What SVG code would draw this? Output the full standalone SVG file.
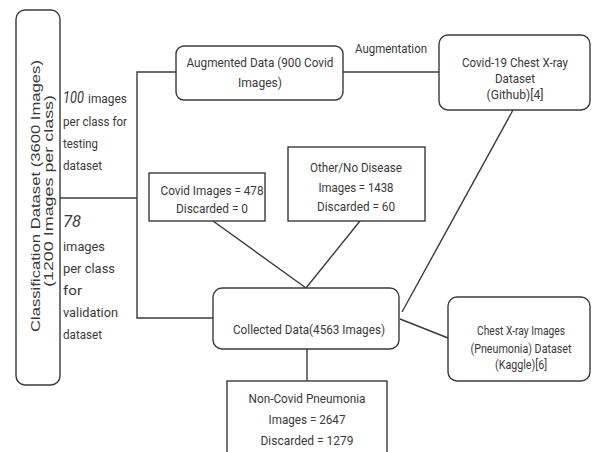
<svg xmlns="http://www.w3.org/2000/svg" width="592" height="452" viewBox="0 0 592 452">
<style>
.box{fill:#fff;stroke:#3a3a3a;stroke-width:1.4}
.ln{fill:none;stroke:#3a3a3a;stroke-width:1.4}
text{font-family:Roboto,"Liberation Sans",sans-serif;font-size:13.5px;fill:#3a3a3a}
.c{text-anchor:middle}
.r{font-family:"Liberation Sans",Arial,sans-serif;text-anchor:middle}
.i{font-style:italic;font-size:16px}
</style>
<rect width="592" height="452" fill="#fff"/>
<g id="connectors">
<polyline class="ln" points="60,198 137,198"/>
<polyline class="ln" points="176,72 137,72 137,318 213,318"/>
<line class="ln" x1="343" y1="72" x2="439" y2="72"/>
<line class="ln" x1="513" y1="110" x2="402" y2="312"/>
<line class="ln" x1="400" y1="319" x2="448" y2="338"/>
<line class="ln" x1="307" y1="349" x2="307" y2="381"/>
<line class="ln" x1="213" y1="221" x2="306" y2="288"/>
<line class="ln" x1="360" y1="221" x2="306" y2="288"/>
<text x="355" y="53" textLength="72" lengthAdjust="spacingAndGlyphs">Augmentation</text>
<text x="63" y="103" class="i" textLength="21" lengthAdjust="spacingAndGlyphs">100</text>
<text x="88" y="103" textLength="39" lengthAdjust="spacingAndGlyphs">images</text>
<text x="63" y="126" textLength="64" lengthAdjust="spacingAndGlyphs">per class for</text>
<text x="63" y="148" textLength="35" lengthAdjust="spacingAndGlyphs">testing</text>
<text x="63" y="170" textLength="39" lengthAdjust="spacingAndGlyphs">dataset</text>
<text x="63" y="227" class="i" textLength="18" lengthAdjust="spacingAndGlyphs">78</text>
<text x="63" y="251" textLength="42" lengthAdjust="spacingAndGlyphs">images</text>
<text x="63" y="273" textLength="52" lengthAdjust="spacingAndGlyphs">per class</text>
<text x="63" y="295" textLength="19" lengthAdjust="spacingAndGlyphs">for</text>
<text x="63" y="317" textLength="55" lengthAdjust="spacingAndGlyphs">validation</text>
<text x="63" y="339" textLength="39" lengthAdjust="spacingAndGlyphs">dataset</text>
</g>
<g id="classification">
<rect class="box" x="16" y="10" width="44" height="375" rx="9"/>
<text class="r" font-size="16" transform="translate(40,196) rotate(-90)" textLength="272" lengthAdjust="spacingAndGlyphs">Classification Dataset (3600  Images)</text>
<text class="r" font-size="14" transform="translate(53,191) rotate(-90)" textLength="192" lengthAdjust="spacingAndGlyphs">(1200 Images per class)</text>
</g>
<g id="augmented">
<rect class="box" x="176" y="46" width="167" height="54" rx="8"/>
<text class="c" x="260" y="67" textLength="147" lengthAdjust="spacingAndGlyphs">Augmented Data (900 Covid</text>
<text class="c" x="260" y="87" textLength="44" lengthAdjust="spacingAndGlyphs">Images)</text>
</g>
<g id="covid19">
<rect class="box" x="439" y="35" width="151" height="75" rx="9"/>
<text class="c" x="515" y="67" textLength="106" lengthAdjust="spacingAndGlyphs">Covid-19 Chest X-ray</text>
<text class="c" x="515" y="83" textLength="40" lengthAdjust="spacingAndGlyphs">Dataset</text>
<text class="c" x="515" y="99" textLength="57" lengthAdjust="spacingAndGlyphs">(Github)[4]</text>
</g>
<g id="covidimages">
<rect class="box" x="149" y="173" width="116" height="48"/>
<text class="c" x="212" y="195" textLength="103" lengthAdjust="spacingAndGlyphs">Covid Images = 478</text>
<text class="c" x="212" y="213" textLength="72" lengthAdjust="spacingAndGlyphs">Discarded = 0</text>
</g>
<g id="other">
<rect class="box" x="288" y="147" width="137" height="74"/>
<text class="c" x="356" y="172" textLength="92" lengthAdjust="spacingAndGlyphs">Other/No Disease</text>
<text class="c" x="356" y="192" textLength="75" lengthAdjust="spacingAndGlyphs">Images = 1438</text>
<text class="c" x="356" y="211" textLength="78" lengthAdjust="spacingAndGlyphs">Discarded = 60</text>
</g>
<g id="collected">
<rect class="box" x="213" y="288" width="186" height="61" rx="9"/>
<text class="c" x="309" y="334" textLength="152" lengthAdjust="spacingAndGlyphs">Collected Data(4563 Images)</text>
</g>
<g id="kaggle">
<rect class="box" x="448" y="297" width="142" height="84" rx="9"/>
<text class="c" x="521" y="335" textLength="88" lengthAdjust="spacingAndGlyphs">Chest X-ray Images</text>
<text class="c" x="521" y="353" textLength="101" lengthAdjust="spacingAndGlyphs">(Pneumonia) Dataset</text>
<text class="c" x="521" y="369" textLength="52" lengthAdjust="spacingAndGlyphs">(Kaggle)[6]</text>
</g>
<g id="noncovid">
<rect class="box" x="227" y="381" width="160" height="80"/>
<text class="c" x="307" y="403" textLength="117" lengthAdjust="spacingAndGlyphs">Non-Covid Pneumonia</text>
<text class="c" x="307" y="424" textLength="77" lengthAdjust="spacingAndGlyphs">Images = 2647</text>
<text class="c" x="307" y="445" textLength="93" lengthAdjust="spacingAndGlyphs">Discarded  = 1279</text>
</g>
</svg>
